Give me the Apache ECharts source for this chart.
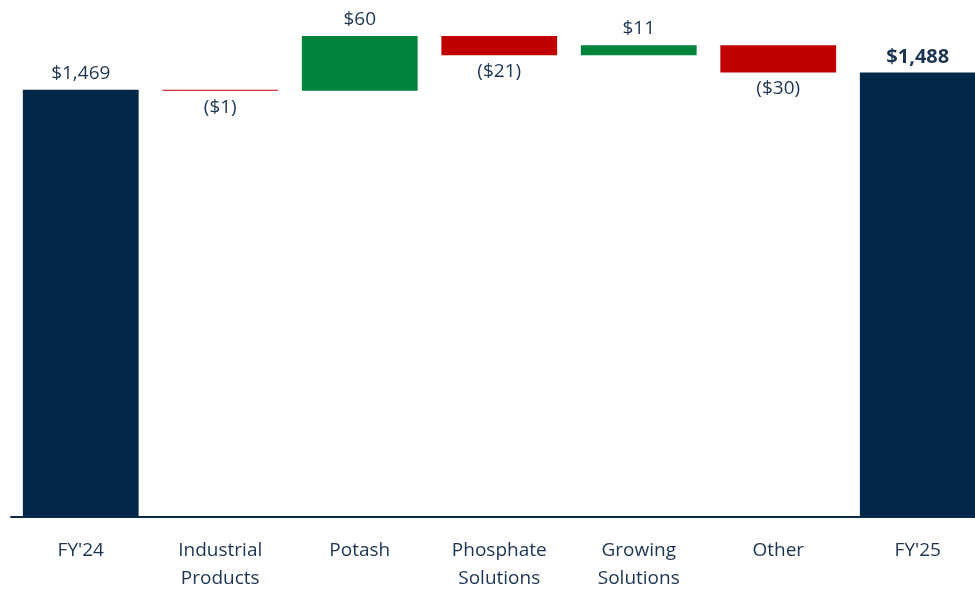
<!DOCTYPE html>
<html>
<head>
<meta charset="utf-8">
<style>
  html, body { margin: 0; padding: 0; background: #ffffff; }
  #chart { width: 975px; height: 589px; }
</style>
<script src="https://cdn.jsdelivr.net/npm/echarts@6/dist/echarts.min.js"></script>
</head>
<body>
<div id="chart"></div>
<script>
// Bridge categories: opening total, segment changes, closing total
const categories = ["FY'24", "Industrial\nProducts", "Potash", "Phosphate\nSolutions", "Growing\nSolutions", "Other", "FY'25"];
const openingTotal = 1469;
const changes = [-1, 60, -21, 11, -30];
const closingTotal = 1488;

const NAVY = '#012848';
const GREEN = '#00843d';
const RED = '#c00000';
const TEXT = '#1b3452';
const FONT = '"Open Sans", "Noto Sans", sans-serif';

function money(v) {
  return '$' + Math.abs(v).toLocaleString('en-US');
}

// Invisible stack base + visible segment for each column
const baseData = [];
const barData = [];

baseData.push(0);
barData.push({ value: openingTotal, itemStyle: { color: NAVY },
  label: { position: 'top', formatter: money(openingTotal) } });

let running = openingTotal;
changes.forEach(d => {
  const next = running + d;
  baseData.push(Math.min(running, next));
  barData.push({
    value: Math.abs(d),
    itemStyle: { color: d >= 0 ? GREEN : RED },
    label: {
      position: d >= 0 ? 'top' : 'bottom',
      formatter: d >= 0 ? money(d) : '(' + money(d) + ')'
    }
  });
  running = next;
});

baseData.push(0);
barData.push({ value: closingTotal, itemStyle: { color: NAVY },
  label: { position: 'top', formatter: money(closingTotal), fontWeight: 'bold', fontSize: 20, distance: 5 } });

const chart = echarts.init(document.getElementById('chart'));
chart.setOption({
  animation: false,
  // the last column runs past the right edge of the canvas
  grid: {
    left: 11, width: 976.5, top: 16, bottom: 72,
    containLabel: false, outerBoundsMode: 'none'
  },
  xAxis: {
    type: 'category',
    data: categories,
    axisLine: { lineStyle: { color: '#0d2a45', width: 2 } },
    axisTick: { show: false },
    axisLabel: {
      color: TEXT, fontFamily: FONT, fontSize: 19, lineHeight: 28,
      margin: 20, interval: 0
    }
  },
  yAxis: {
    type: 'value',
    min: 1000,
    max: 1550,
    show: false,
    splitLine: { show: false }
  },
  series: [
    {
      type: 'bar',
      stack: 'bridge',
      data: baseData,
      itemStyle: { color: 'transparent' },
      emphasis: { disabled: true },
      silent: true,
      barWidth: '83%'
    },
    {
      type: 'bar',
      stack: 'bridge',
      data: barData,
      barWidth: '83%',
      label: {
        show: true,
        color: TEXT,
        fontFamily: FONT,
        fontSize: 19,
        distance: 7
      }
    }
  ]
});
</script>
</body>
</html>
